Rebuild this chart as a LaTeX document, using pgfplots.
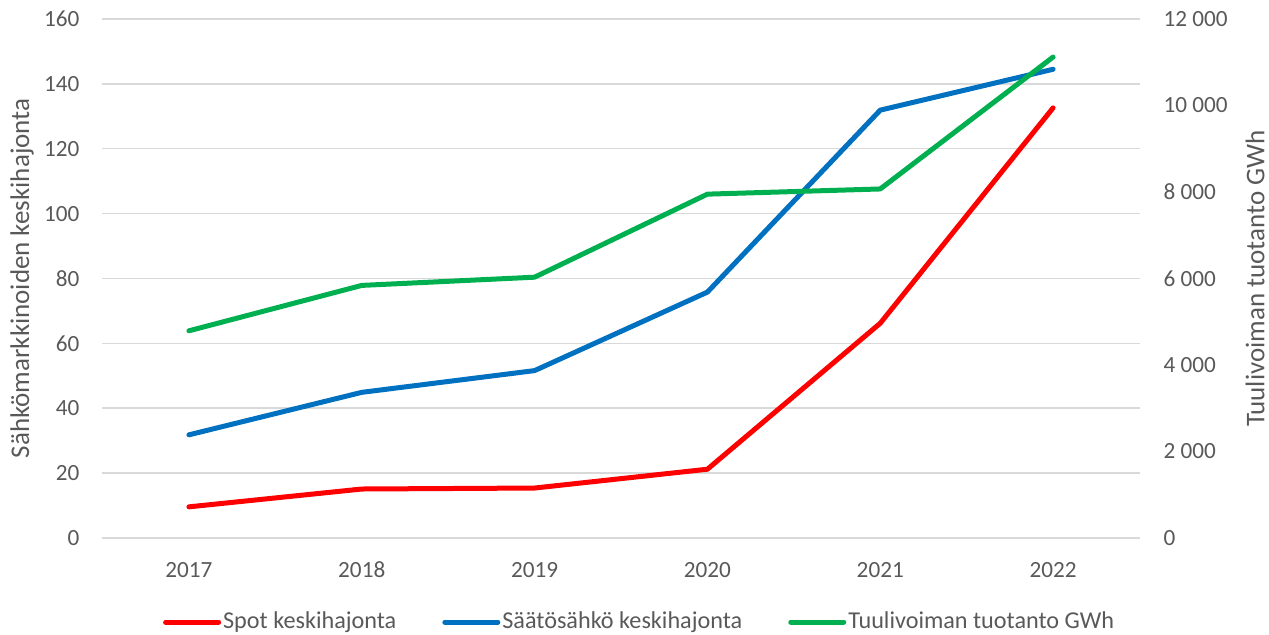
\documentclass[border=0pt]{standalone}
\usepackage{fontspec}
\setmainfont{Carlito}
\usepackage{pgfplots}
\pgfplotsset{compat=1.18}
\definecolor{txt}{HTML}{595959}
\definecolor{gridc}{HTML}{D9D9D9}
\definecolor{cred}{HTML}{FF0000}
\definecolor{cblue}{HTML}{0070C0}
\definecolor{cgreen}{HTML}{00B050}
\begin{document}
\fontsize{11.5}{14}\selectfont
\begin{tikzpicture}[font=\fontsize{11.5}{14}\selectfont]
\useasboundingbox (-51.25pt,-48.5pt) rectangle (583.25pt,269pt);
\pgfplotsset{common/.style={width=518.5pt,height=259.5pt,scale only axis,
  at={(0,0)}, anchor=south west, xmin=-0.5, xmax=5.5,
  axis line style={draw=none}, major tick length=0pt,
  scaled y ticks=false,
  /pgf/number format/assume math mode=true,
  tick label style={text=txt, font=\fontsize{11.6}{14}\selectfont},
  label style={text=txt, font=\fontsize{13.5}{16}\selectfont},
  every axis plot/.append style={line width=2.5pt, line join=round, line cap=round, mark=none}}}
\begin{axis}[common,
  ymin=0, ymax=160, ytick={0,20,...,160},
  xtick={0,1,2,3,4,5}, xticklabels={2017,2018,2019,2020,2021,2022},
  ymajorgrids, grid style={gridc, line width=0.75pt},
  ylabel={Sähkömarkkinoiden keskihajonta},
  ylabel style={at={(axis description cs:-0.0776,0.5)}, anchor=center},
  xticklabel style={anchor=north, text height=7.5pt, text depth=0pt, yshift=-8.4pt},
  yticklabel style={xshift=-7.5pt},
  legend style={at={(axis description cs:0.518,-0.162)}, anchor=center,
    draw=none, fill=none, legend columns=3, text=txt,
    font=\fontsize{12.1}{14}\selectfont,
    nodes={inner xsep=1pt},
    /tikz/every even column/.append style={column sep=22pt}},
  legend image code/.code={\draw[#1, line width=2.5pt, line cap=round] (0pt,0pt) -- (26.5pt,0pt);}
]
\addplot[cred] coordinates {(0,9.6) (1,15.1) (2,15.4) (3,21.2) (4,66.2) (5,132.6)};
\addlegendentry{Spot keskihajonta}
\addplot[cblue] coordinates {(0,31.8) (1,44.9) (2,51.6) (3,75.8) (4,131.9) (5,144.5)};
\addlegendentry{Säätösähkö keskihajonta}
\addlegendimage{cgreen}
\addlegendentry{Tuulivoiman tuotanto GWh}
\end{axis}
\begin{axis}[common,
  ymin=0, ymax=12000, ytick={0,2000,4000,6000,8000,10000,12000},
  yticklabels={0,2 000,4 000,6 000,8 000,10 000,12 000},
  yticklabel pos=right, xtick=\empty,
  yticklabel style={xshift=8pt},
  ylabel={Tuulivoiman tuotanto GWh},
  ylabel style={at={(axis description cs:1.1114,0.5)}, anchor=center, rotate=0}
]
\addplot[cgreen] coordinates {(0,4790) (1,5840) (2,6030) (3,7950) (4,8070) (5,11120)};
\end{axis}
\end{tikzpicture}
\end{document}
